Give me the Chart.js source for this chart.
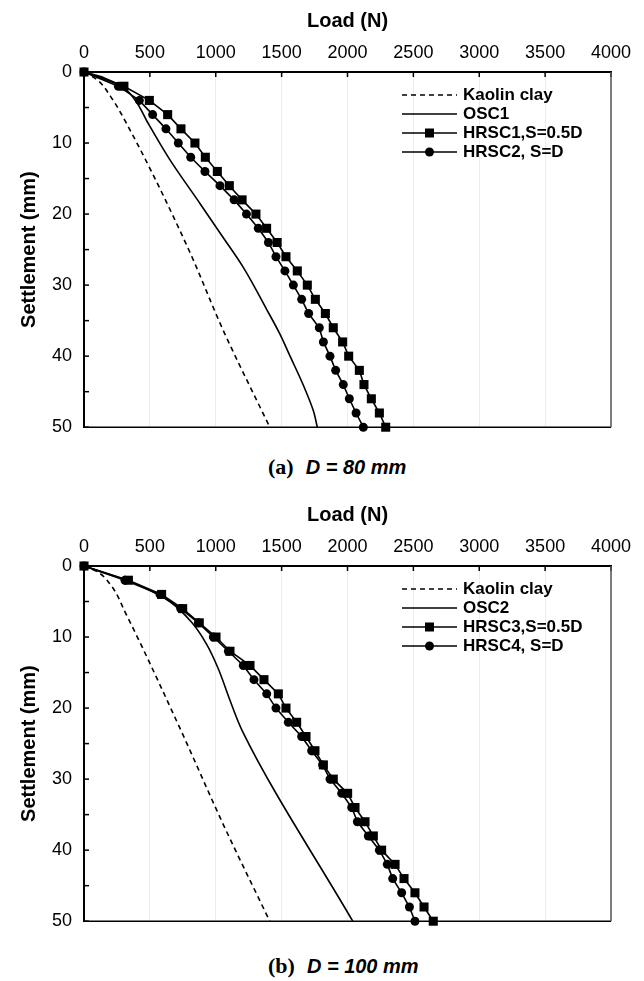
<!DOCTYPE html>
<html>
<head>
<meta charset="utf-8">
<script src="https://cdn.jsdelivr.net/npm/chart.js@4"></script>
<style>
    html, body { margin: 0; padding: 0; background: #fff; }
    body { width: 644px; height: 981px; position: relative; overflow: hidden; }
    .chart-box { position: absolute; left: 0; width: 644px; height: 450px; }
    .caption { position: absolute; left: 268px; white-space: nowrap; color: #000; }
    .caption .tag { font-family: "Liberation Serif", serif; font-weight: bold; font-size: 22px; }
    .caption .dim { font-family: "Liberation Sans", Arial, sans-serif; font-weight: bold; font-style: italic; font-size: 20px; margin-left: 12px; }
</style>
</head>
<body>
<div class="chart-box" style="top:0px"><canvas id="chartA"></canvas></div>
<div class="caption" style="top:454px"><span class="tag">(a)</span><span class="dim">D = 80 mm</span></div>
<div class="chart-box" style="top:494px"><canvas id="chartB"></canvas></div>
<div class="caption" style="top:953px"><span class="tag">(b)</span><span class="dim">D = 100 mm</span></div>
<script>
// axis ticks
const loadTicks = [0, 500, 1000, 1500, 2000, 2500, 3000, 3500, 4000];
const settleTicks = [0, 10, 20, 30, 40, 50];
const settleMarks = [0, 5, 10, 15, 20, 25, 30, 35, 40, 45, 50];

// settlement steps of the marked tests (mm)
const markedSettle = [0, 2, 4, 6, 8, 10, 12, 14, 16, 18, 20, 22, 24, 26, 28, 30, 32, 34, 36, 38, 40, 42, 44, 46, 48, 50];

// (a) D = 80 mm
const kaolinALoad = [0, 100, 200, 330, 780, 1060, 1410];
const kaolinASettle = [0, 1.1, 3.4, 7.5, 24.4, 36.5, 50];
const osc1Load = [0, 150, 300, 390, 480, 650, 880, 1030, 1209, 1386, 1490, 1564, 1665, 1741, 1771];
const osc1Settle = [0, 0.8, 2.2, 4.0, 7.0, 12.3, 18.5, 22.6, 27.5, 33.4, 37.0, 40, 44.1, 47.7, 50];
const hrsc1Load = [0, 303, 496, 635, 736, 842, 921, 1012, 1103, 1200, 1305, 1386, 1466, 1533, 1619, 1695, 1756, 1832, 1892, 1963, 2009, 2090, 2125, 2181, 2242, 2290];
const hrsc2Load = [0, 261, 420, 521, 622, 716, 810, 918, 1032, 1139, 1233, 1323, 1400, 1457, 1525, 1589, 1652, 1705, 1786, 1817, 1867, 1910, 1968, 2014, 2065, 2120];

// (b) D = 100 mm
const kaolinBLoad = [0, 100, 200, 320, 720, 1060, 1410];
const kaolinBSettle = [0, 0.8, 2.6, 6.8, 22.5, 36.5, 50];
const osc2Load = [0, 320, 450, 650, 820, 930, 1020, 1100, 1204, 2040];
const osc2Settle = [0, 2.0, 3.0, 5.0, 8.0, 11.0, 14.5, 18.5, 23.3, 50];
const hrsc3Load = [0, 337, 589, 749, 875, 1002, 1108, 1260, 1366, 1475, 1533, 1614, 1685, 1753, 1817, 1892, 2001, 2057, 2133, 2196, 2259, 2361, 2429, 2512, 2581, 2651];
const hrsc4Load = [0, 311, 577, 734, 868, 982, 1096, 1209, 1290, 1387, 1457, 1551, 1652, 1728, 1811, 1867, 1956, 2032, 2075, 2158, 2242, 2302, 2343, 2411, 2470, 2512];

const FONT = '"Liberation Sans", Arial, sans-serif';
const toPoints = (loads, settles) => loads.map((x, i) => ({ x, y: settles[i] }));

// frame (bottom + right edge) and inward tick marks
const framePlugin = {
    id: 'frame',
    beforeDatasetsDraw(chart) {
        const { ctx, chartArea: a, scales } = chart;
        ctx.save();
        ctx.lineCap = 'butt';
        ctx.strokeStyle = '#000';
        ctx.lineWidth = 1.5;
        loadTicks.forEach(v => {
            const px = scales.x.getPixelForValue(v);
            ctx.beginPath(); ctx.moveTo(px, a.top); ctx.lineTo(px, a.top + 5); ctx.stroke();
        });
        settleMarks.forEach(v => {
            const py = scales.y.getPixelForValue(v);
            ctx.beginPath(); ctx.moveTo(a.left, py); ctx.lineTo(a.left + 5, py); ctx.stroke();
        });
        ctx.beginPath(); ctx.moveTo(a.left, a.bottom); ctx.lineTo(a.right, a.bottom); ctx.stroke();
        ctx.strokeStyle = '#555';
        ctx.beginPath(); ctx.moveTo(a.right, a.top); ctx.lineTo(a.right, a.bottom); ctx.stroke();
        ctx.restore();
    }
};

// legend with line sample + marker, drawn inside the plot
const lineLegendPlugin = {
    id: 'lineLegend',
    afterDraw(chart, args, opts) {
        const ctx = chart.ctx;
        ctx.save();
        ctx.font = `bold ${opts.fontSize}px ${FONT}`;
        ctx.textBaseline = 'middle';
        ctx.fillStyle = '#000';
        chart.data.datasets.forEach((ds, i) => {
            const y = opts.top + i * opts.rowGap;
            ctx.strokeStyle = '#000';
            ctx.lineWidth = ds.borderWidth;
            ctx.setLineDash(ds.borderDash || []);
            ctx.beginPath(); ctx.moveTo(opts.left, y); ctx.lineTo(opts.left + opts.lineLen, y); ctx.stroke();
            ctx.setLineDash([]);
            const cx = opts.left + opts.lineLen / 2;
            if (ds.pointStyle === 'rect') {
                ctx.fillRect(cx - 4.5, y - 4.5, 9, 9);
            } else if (ds.pointStyle === 'circle') {
                ctx.beginPath(); ctx.arc(cx, y, 4.5, 0, Math.PI * 2); ctx.fill();
            }
            ctx.fillText(ds.label, opts.left + opts.lineLen + 6, y);
        });
        ctx.restore();
    }
};

const makeChart = (canvasId, labels, kaolin, osc, hrscSquare, hrscCircle) => {
    const datasets = [
        { label: labels[0], data: kaolin, borderDash: [5, 4], pointRadius: 0, cubicInterpolationMode: 'monotone' },
        { label: labels[1], data: osc, pointRadius: 0, cubicInterpolationMode: 'monotone' },
        { label: labels[2], data: hrscSquare, pointStyle: 'rect', pointRadius: 6.4 },
        { label: labels[3], data: hrscCircle, pointStyle: 'circle', pointRadius: 4.5 }
    ].map(ds => Object.assign({
        borderColor: '#000',
        backgroundColor: '#000',
        pointBackgroundColor: '#000',
        pointBorderWidth: 0,
        borderWidth: 1.6,
        tension: 0,
        clip: false
    }, ds));

    return new Chart(document.getElementById(canvasId), {
        type: 'line',
        data: { datasets },
        options: {
            responsive: true,
            maintainAspectRatio: false,
            animation: false,
            events: [],
            indexAxis: 'y',
            layout: { padding: { left: 0, right: 33, top: 0, bottom: 6 } },
            scales: {
                x: {
                    type: 'linear',
                    position: 'top',
                    min: 0,
                    max: 4000,
                    afterBuildTicks: axis => { axis.ticks = loadTicks.map(v => ({ value: v })); },
                    afterFit: axis => { axis.height = 72; },
                    ticks: { color: '#000', font: { family: FONT, size: 18 }, padding: 8, maxRotation: 0, callback: v => String(v) },
                    grid: { color: '#ededed', lineWidth: 1, drawTicks: false },
                    border: { display: true, color: '#000', width: 2 },
                    title: { display: true, text: 'Load (N)', color: '#000', font: { family: FONT, size: 20, weight: 'bold' }, padding: { top: 9, bottom: 0 } }
                },
                y: {
                    type: 'linear',
                    reverse: true,
                    min: 0,
                    max: 50,
                    afterBuildTicks: axis => { axis.ticks = settleTicks.map(v => ({ value: v })); },
                    afterFit: axis => { axis.width = 84; },
                    ticks: { color: '#000', font: { family: FONT, size: 18 }, padding: 12 },
                    grid: { drawOnChartArea: false, drawTicks: false },
                    border: { display: true, color: '#000', width: 2 },
                    title: { display: true, text: 'Settlement (mm)', color: '#000', font: { family: FONT, size: 20, weight: 'bold' }, padding: { top: 17, bottom: 0 } }
                }
            },
            plugins: {
                legend: { display: false },
                tooltip: { enabled: false },
                lineLegend: { left: 402, top: 95, rowGap: 19, lineLen: 55, fontSize: 17 }
            }
        },
        plugins: [framePlugin, lineLegendPlugin]
    });
};

makeChart('chartA', ['Kaolin clay', 'OSC1', 'HRSC1,S=0.5D', 'HRSC2, S=D'],
    toPoints(kaolinALoad, kaolinASettle), toPoints(osc1Load, osc1Settle),
    toPoints(hrsc1Load, markedSettle), toPoints(hrsc2Load, markedSettle));

makeChart('chartB', ['Kaolin clay', 'OSC2', 'HRSC3,S=0.5D', 'HRSC4, S=D'],
    toPoints(kaolinBLoad, kaolinBSettle), toPoints(osc2Load, osc2Settle),
    toPoints(hrsc3Load, markedSettle), toPoints(hrsc4Load, markedSettle));
</script>
</body>
</html>
